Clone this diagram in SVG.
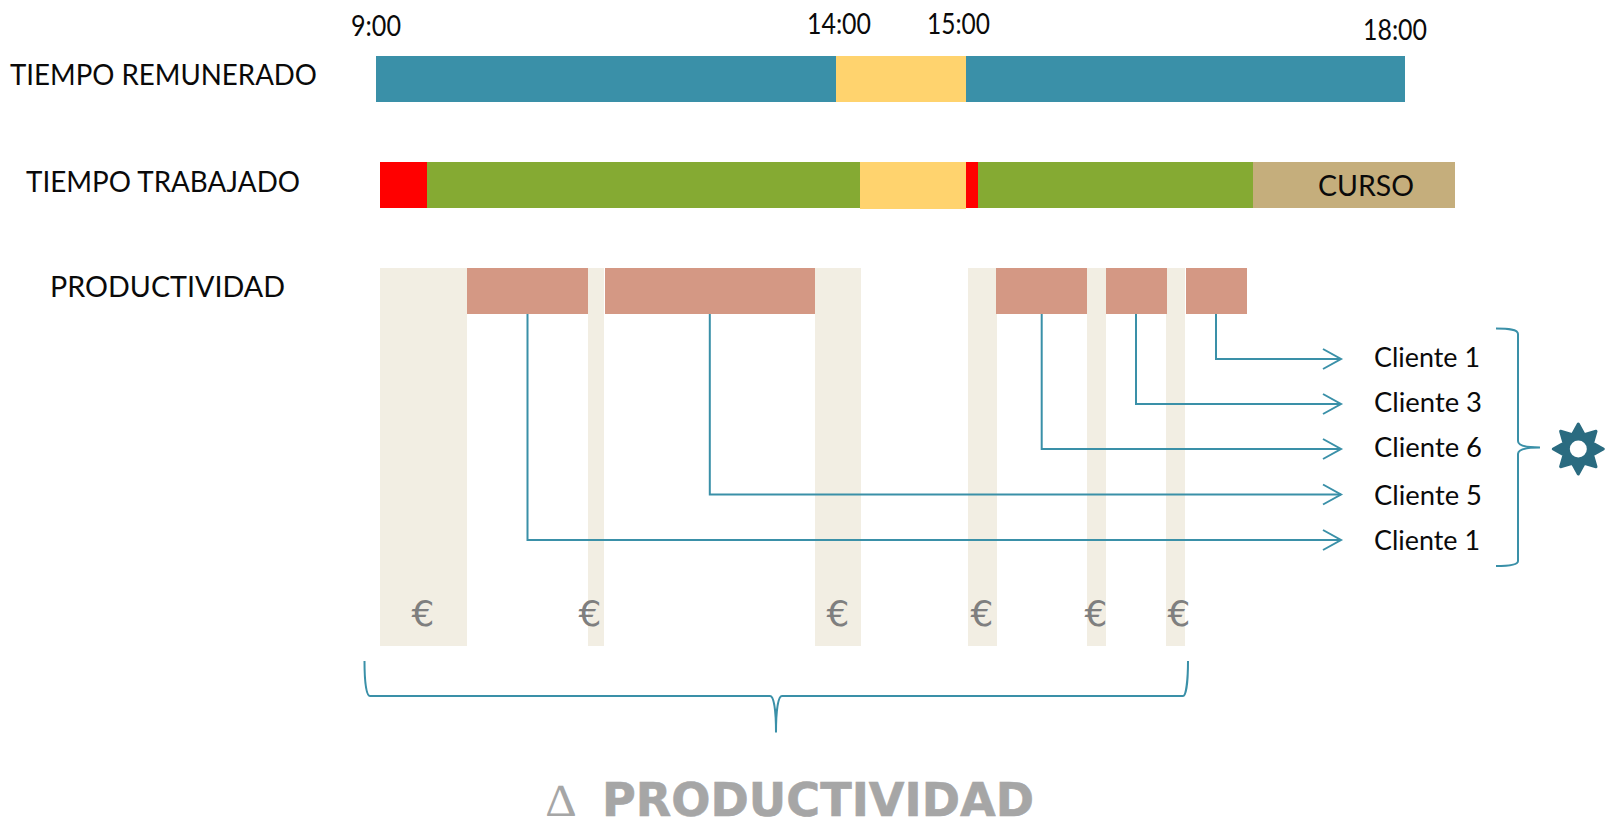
<svg xmlns="http://www.w3.org/2000/svg" width="1606" height="817" viewBox="0 0 1606 817">
<style>
.t{font-family:Lato,"Noto Sans",sans-serif;font-size:28px;fill:#0a0a0a}
.c{font-family:Lato,"Noto Sans",sans-serif;font-size:27px;fill:#0a0a0a}
.e{font-family:"DejaVu Sans",sans-serif;font-size:36px;fill:#7f7f7f;text-anchor:middle}
.blue{fill:#3A90A8}.yel{fill:#FFD36E}.grn{fill:#85AA33}.red{fill:#FF0000}.tan{fill:#C5AE7C}.bei{fill:#F2EEE3}.sal{fill:#D49884}
.ln{fill:none;stroke:#3A90A8;stroke-width:2}
.br{fill:none;stroke:#3A90A8;stroke-width:2}
</style>
<defs>
<marker id="arrow" markerUnits="userSpaceOnUse" markerWidth="24" markerHeight="26" refX="20" refY="12" orient="auto">
<path d="M2 2 L20 12 L2 22" fill="none" stroke="#3A90A8" stroke-width="2"/>
</marker>
</defs>
<g id="labels">
<text class="t" x="10" y="85" textLength="307" lengthAdjust="spacingAndGlyphs">TIEMPO REMUNERADO</text>
<text class="t" x="26" y="191.5" textLength="274" lengthAdjust="spacingAndGlyphs">TIEMPO TRABAJADO</text>
<text class="t" x="50" y="297" textLength="235" lengthAdjust="spacingAndGlyphs">PRODUCTIVIDAD</text>
</g>
<g id="hours">
<text class="t" x="351" y="35.5" textLength="50" lengthAdjust="spacingAndGlyphs">9:00</text>
<text class="t" x="807" y="33.5" textLength="64" lengthAdjust="spacingAndGlyphs">14:00</text>
<text class="t" x="927" y="33.5" textLength="63" lengthAdjust="spacingAndGlyphs">15:00</text>
<text class="t" x="1363" y="39.5" textLength="64" lengthAdjust="spacingAndGlyphs">18:00</text>
</g>
<g id="tiempo-remunerado">
<rect class="blue" x="376" y="56" width="460" height="46"/>
<rect class="yel" x="836" y="56" width="130" height="46"/>
<rect class="blue" x="966" y="56" width="439" height="46"/>
</g>
<g id="tiempo-trabajado">
<rect class="red" x="380" y="162" width="47" height="46"/>
<rect class="grn" x="427" y="162" width="433" height="46"/>
<rect class="yel" x="860" y="162" width="106" height="47"/>
<rect class="red" x="966" y="162" width="12" height="46"/>
<rect class="grn" x="978" y="162" width="275" height="46"/>
<rect class="tan" x="1253" y="162" width="202" height="46"/>
<text class="t" x="1318" y="196" textLength="96" lengthAdjust="spacingAndGlyphs">CURSO</text>
</g>
<g id="productividad">
<rect class="bei" x="380" y="268" width="87" height="378"/>
<rect class="bei" x="588" y="268" width="16" height="378"/>
<rect class="bei" x="815" y="268" width="46" height="378"/>
<rect class="bei" x="968" y="268" width="29" height="378"/>
<rect class="bei" x="1087" y="268" width="19" height="378"/>
<rect class="bei" x="1166" y="268" width="19" height="378"/>
<rect class="sal" x="467" y="268" width="121" height="46"/>
<rect class="sal" x="605" y="268" width="210" height="46"/>
<rect class="sal" x="996" y="268" width="91" height="46"/>
<rect class="sal" x="1106" y="268" width="61" height="46"/>
<rect class="sal" x="1186" y="268" width="61" height="46"/>
</g>
<g id="connectors">
<path class="ln" d="M1216 314V359H1341" marker-end="url(#arrow)"/>
<path class="ln" d="M1136 314V404H1341" marker-end="url(#arrow)"/>
<path class="ln" d="M1041.7 314V449H1341" marker-end="url(#arrow)"/>
<path class="ln" d="M709.8 314V494.5H1341" marker-end="url(#arrow)"/>
<path class="ln" d="M527.5 314V540H1341" marker-end="url(#arrow)"/>
</g>
<g id="clientes">
<text class="c" x="1374" y="367" textLength="106" lengthAdjust="spacingAndGlyphs">Cliente 1</text>
<text class="c" x="1374" y="412" textLength="108" lengthAdjust="spacingAndGlyphs">Cliente 3</text>
<text class="c" x="1374" y="457" textLength="108" lengthAdjust="spacingAndGlyphs">Cliente 6</text>
<text class="c" x="1374" y="505" textLength="108" lengthAdjust="spacingAndGlyphs">Cliente 5</text>
<text class="c" x="1374" y="550" textLength="106" lengthAdjust="spacingAndGlyphs">Cliente 1</text>
</g>
<g id="euros">
<text class="e" x="423" y="626">€</text>
<text class="e" x="590" y="626">€</text>
<text class="e" x="838" y="626">€</text>
<text class="e" x="982" y="626">€</text>
<text class="e" x="1096" y="626">€</text>
<text class="e" x="1179" y="626">€</text>
</g>
<g id="llave-clientes">
<path class="br" d="M1496 328.5C1508 328.5 1518 329 1518 334L1518 441C1518 446 1526 447.5 1540 447.5C1526 447.5 1518 449 1518 454L1518 561C1518 565 1508 566 1496 566"/>
</g>
<g id="engranaje" transform="translate(1578.3 449)">
<polygon points="0,-25 5.9,-14.3 17.7,-17.7 14.3,-5.9 25,0 14.3,5.9 17.7,17.7 5.9,14.3 0,25 -5.9,14.3 -17.7,17.7 -14.3,5.9 -25,0 -14.3,-5.9 -17.7,-17.7 -5.9,-14.3" fill="#2A6B80" stroke="#2A6B80" stroke-width="3" stroke-linejoin="round"/>
<circle r="8.5" fill="#fff"/>
</g>
<g id="llave-productividad">
<path class="br" d="M364.5 661C364.5 680 366 696 370 696L770 696C774 696 776 711 776 732.5C776 711 778 696 782 696L1183 696C1186 696 1188 680 1188 661"/>
</g>
<g id="delta-productividad">
<text x="546" y="815.5" font-family="'Liberation Serif',serif" font-size="46" fill="#a6a6a6" textLength="30" lengthAdjust="spacingAndGlyphs">∆</text>
<text x="602" y="815.5" font-family="'DejaVu Sans',sans-serif" font-weight="700" font-size="47" fill="#a6a6a6" stroke="#a6a6a6" stroke-width="0.6" textLength="432" lengthAdjust="spacingAndGlyphs">PRODUCTIVIDAD</text>
</g>
</svg>
